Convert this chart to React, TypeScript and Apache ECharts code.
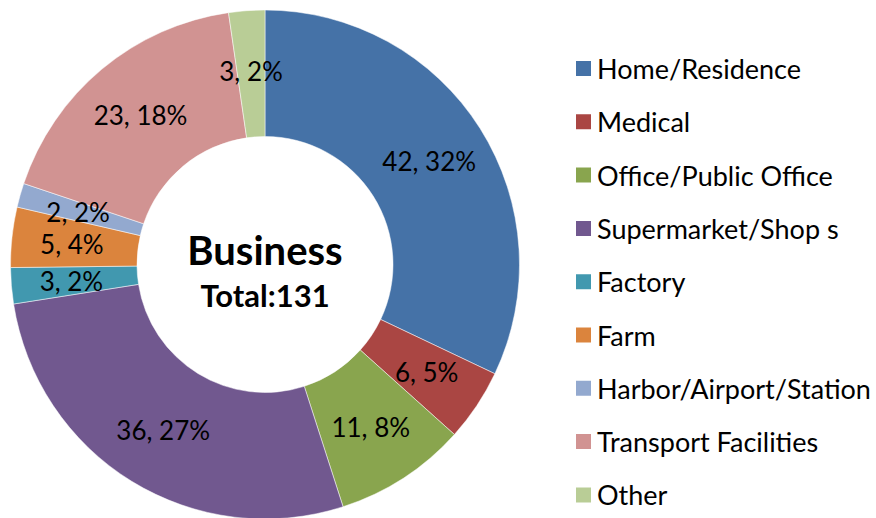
import React, { useEffect, useRef } from "react";
import * as echarts from "echarts";

const categories = [
  "Home/Residence",
  "Medical",
  "Office/Public Office",
  "Supermarket/Shop s",
  "Factory",
  "Farm",
  "Harbor/Airport/Station",
  "Transport Facilities",
  "Other",
];
const values = [42, 6, 11, 36, 3, 5, 2, 23, 3];
const colors = [
  "#4572A7",
  "#AA4643",
  "#89A54E",
  "#71588F",
  "#4198AF",
  "#DB843D",
  "#93A9CF",
  "#D19392",
  "#B9CD96",
];
const centerTitle = "Business";
const centerSub = "Total:131";

export default function App() {
  const ref = useRef<HTMLDivElement>(null);
  useEffect(() => {
    if (!ref.current) return;
    const chart = echarts.init(ref.current, null, { renderer: "svg" });
    const total = values.reduce((a, b) => a + b, 0);
    const font = "Lato, 'Open Sans', sans-serif";
    chart.setOption({
      animation: false,
      backgroundColor: "#ffffff",
      color: colors,
      legend: {
        orient: "vertical",
        left: 574,
        top: 55,
        padding: 0,
        itemWidth: 17,
        itemHeight: 17,
        itemGap: 26.3,
        icon: "rect",
        selectedMode: false,
        textStyle: { fontFamily: font, fontSize: 27, lineHeight: 27, color: "#000" },
        data: categories,
      },
      graphic: [
        {
          type: "text",
          x: 265,
          y: 249.5,
          style: {
            text: centerTitle,
            fontFamily: font,
            fontWeight: "bold",
            fontSize: 40,
            fill: "#000",
            align: "center",
            verticalAlign: "middle",
          },
        },
        {
          type: "text",
          x: 265,
          y: 295,
          style: {
            text: centerSub,
            fontFamily: font,
            fontWeight: "bold",
            fontSize: 31,
            fill: "#000",
            align: "center",
            verticalAlign: "middle",
          },
        },
      ],
      series: [
        {
          type: "pie",
          center: [265, 264.5],
          radius: [128, 254.5],
          startAngle: 90,
          clockwise: true,
          itemStyle: { borderColor: "#ffffff", borderWidth: 0.5 },
          label: {
            show: true,
            position: "inside",
            fontFamily: font,
            fontSize: 26,
            color: "#000",
            formatter: (p: any) => `${p.value}, ${Math.round((p.value / total) * 100)}%`,
          },
          labelLine: { show: false },
          emphasis: { disabled: true },
          data: categories.map((name, i) => ({ name, value: values[i] })),
        },
      ],
    });
    return () => chart.dispose();
  }, []);
  return (
    <div
      ref={ref}
      style={{ position: "fixed", left: 0, top: 0, width: 876, height: 518 }}
    />
  );
}
